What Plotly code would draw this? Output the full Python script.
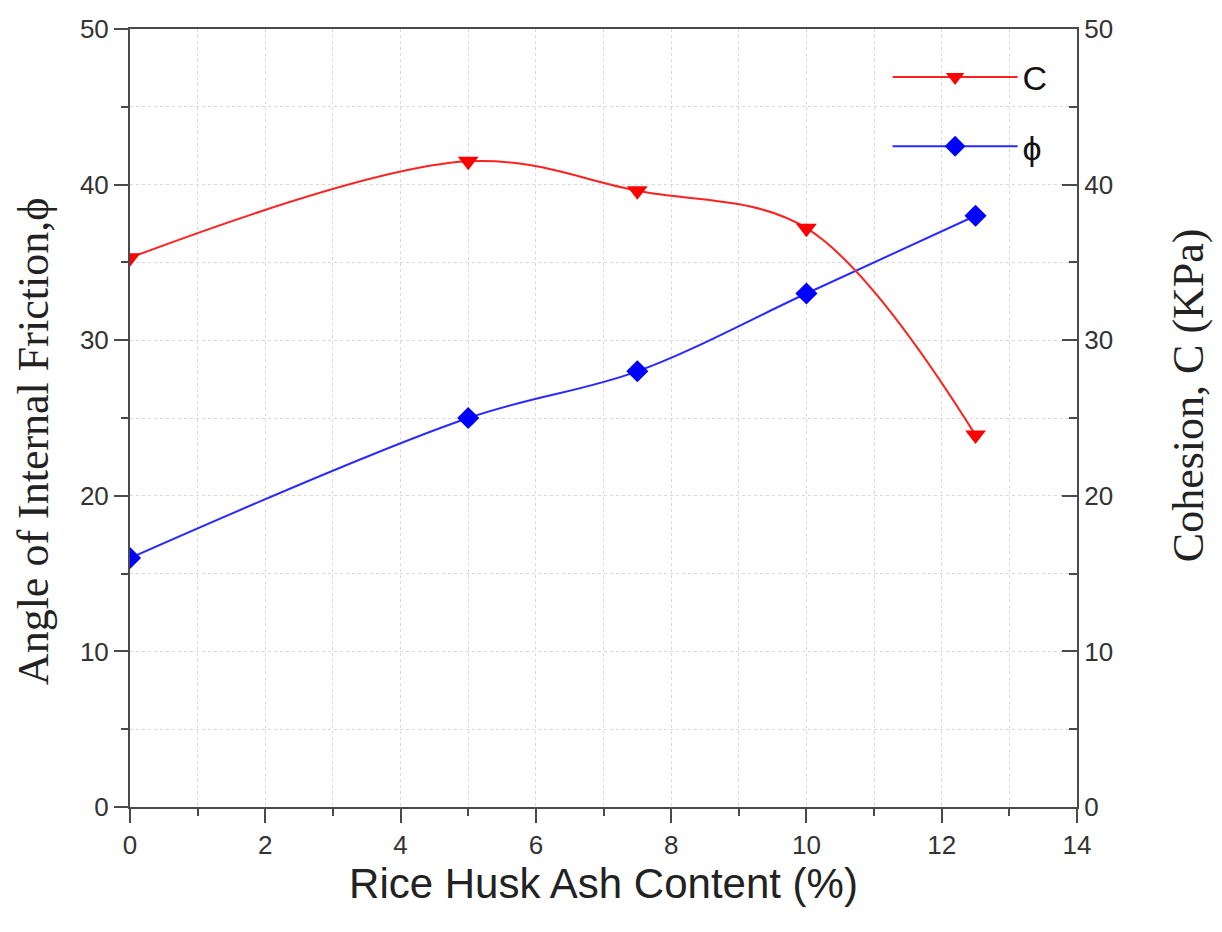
import plotly.graph_objects as go

rha = [0, 5, 7.5, 10, 12.5]
cohesion = [35.3, 41.5, 39.6, 37.2, 23.9]
phi = [16, 25, 28, 33, 38]

AX = "#4a4a4a"
GRID = "#d9d9d9"
TICKFONT = dict(family="Liberation Sans, Arial", size=26, color="#333333")
SERIF = dict(family="Liberation Serif, Times New Roman", size=44, color="#222")

fig = go.Figure()
fig.add_trace(go.Scatter(
    x=rha, y=cohesion, name="C", yaxis="y2", legendgroup="c",
    mode="lines+markers", line=dict(color="#ff2020", width=2, shape="spline", smoothing=1.0),
    marker=dict(symbol="triangle-down", size=18, color="#ff0000"),
))
fig.add_trace(go.Scatter(
    x=rha, y=phi, name="ϕ", legendgroup="p",
    mode="lines+markers", line=dict(color="#2a2aff", width=2, shape="spline", smoothing=1.0),
    marker=dict(symbol="diamond", size=17, color="#0000ff"),
))

fig.update_layout(
    width=1222, height=932,
    margin=dict(l=130, r=145, t=29, b=125),
    paper_bgcolor="white", plot_bgcolor="white",
    showlegend=True,
    legend=dict(x=0.80, y=0.975, xanchor="left", yanchor="top",
                bgcolor="rgba(0,0,0,0)", font=dict(family="Liberation Sans, Arial", size=34, color="#111"),
                itemwidth=125, tracegroupgap=22),
    xaxis=dict(
        range=[0, 14], dtick=2, tick0=0,
        showline=True, linecolor=AX, linewidth=2, mirror=True,
        ticks="outside", ticklen=14, tickwidth=2, tickcolor=AX,
        tickfont=TICKFONT, zeroline=False,
        showgrid=True, gridcolor=GRID, griddash="dot", gridwidth=1,
        minor=dict(dtick=1, ticks="outside", ticklen=7, tickwidth=2, tickcolor=AX,
                   showgrid=True, gridcolor=GRID, griddash="dot"),
        title=dict(text="Rice Husk Ash Content (%)", standoff=8,
                   font=dict(family="Liberation Sans, Arial", size=42, color="#222")),
    ),
    yaxis=dict(
        range=[0, 50], dtick=10, tick0=0,
        showline=True, linecolor=AX, linewidth=2, mirror=False,
        ticks="outside", ticklen=14, tickwidth=2, tickcolor=AX,
        tickfont=TICKFONT, zeroline=False,
        showgrid=True, gridcolor=GRID, griddash="dot", gridwidth=1,
        minor=dict(dtick=5, ticks="outside", ticklen=7, tickwidth=2, tickcolor=AX,
                   showgrid=True, gridcolor=GRID, griddash="dot"),
    ),
    yaxis2=dict(
        range=[0, 50], dtick=10, tick0=0, overlaying="y", side="right",
        showline=True, linecolor=AX, linewidth=2,
        ticks="inside", ticklen=15, tickwidth=2, tickcolor=AX,
        tickfont=TICKFONT, zeroline=False, showgrid=False,
        minor=dict(dtick=5, ticks="inside", ticklen=8, tickwidth=2, tickcolor=AX),
    ),
    annotations=[
        dict(text="Angle of Internal Friction,ϕ", textangle=-90, showarrow=False,
             xref="paper", yref="paper", x=-0.1024, y=0.469, xanchor="center", yanchor="middle",
             font=SERIF),
        dict(text="Cohesion, C (KPa)", textangle=-90, showarrow=False,
             xref="paper", yref="paper", x=1.118, y=0.529, xanchor="center", yanchor="middle",
             font=SERIF),
    ],
)

fig.write_html("out.html")
